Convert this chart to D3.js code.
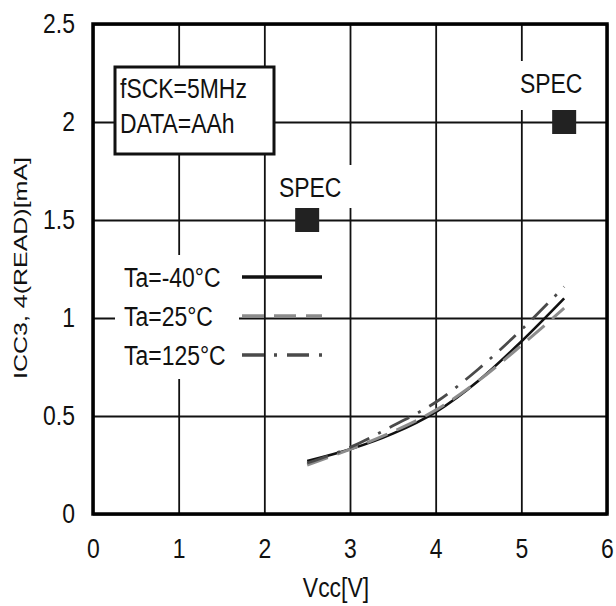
<!DOCTYPE html>
<html>
<head>
<meta charset="utf-8">
<script src="https://cdn.jsdelivr.net/npm/d3@7"></script>
<style>
  html, body { margin: 0; padding: 0; background: #fff; }
  svg { display: block; }
</style>
</head>
<body>
<div id="chart"></div>
<script>
// data
var vcc = [2.5, 3.0, 3.5, 4.0, 4.5, 5.0, 5.5];
var iccM40 = [0.27, 0.33, 0.41, 0.52, 0.68, 0.88, 1.10];
var icc25 = [0.25, 0.33, 0.42, 0.53, 0.68, 0.86, 1.05];
var icc125 = [0.26, 0.34, 0.45, 0.57, 0.74, 0.94, 1.16];
var seriesNames = ["Ta=-40\u00b0C", "Ta=25\u00b0C", "Ta=125\u00b0C"];
var specV = [2.5, 5.5];
var specI = [1.5, 2.0];
var xTicks = [0, 1, 2, 3, 4, 5, 6];
var yTicks = [0, 0.5, 1, 1.5, 2, 2.5];
var condText = ["fSCK=5MHz", "DATA=AAh"];

var W = 616, H = 606,
    margin = {top: 24, right: 9, bottom: 92, left: 93},
    width = W - margin.left - margin.right,
    height = H - margin.top - margin.bottom,
    font = "'Liberation Sans', Arial, sans-serif",
    fs = 27,
    squeeze = 0.85; // the original lettering is a condensed face

var styles = [
    {stroke: "#111", width: 2.6, dash: null},
    {stroke: "#8c8c8c", width: 3, dash: "22,10"},
    {stroke: "#4a4a4a", width: 2.8, dash: "22,10,3,10"}
];

var svg = d3.select("#chart").append("svg")
    .attr("width", W)
    .attr("height", H);

var g = svg.append("g")
    .attr("transform", "translate(" + margin.left + "," + margin.top + ")");

var x = d3.scaleLinear().domain([0, 6]).range([0, width]);
var y = d3.scaleLinear().domain([0, 2.5]).range([height, 0]);

// grid + tick labels
var xAxis = g.append("g")
    .attr("transform", "translate(0," + height + ")")
    .call(d3.axisBottom(x).tickValues(xTicks).tickSize(-height).tickPadding(25)
        .tickFormat(d3.format("d")));
var yAxis = g.append("g")
    .call(d3.axisLeft(y).tickValues(yTicks).tickSize(-width).tickPadding(18)
        .tickFormat(function (d) { return String(d); }));

[xAxis, yAxis].forEach(function (a) {
    a.select(".domain").remove();
    a.selectAll("line").attr("stroke", "#111").attr("stroke-width", 1.8);
    a.selectAll("text").attr("class", "narrow").attr("fill", "#111")
        .style("font-family", font).style("font-size", fs + "px");
});

// white backgrounds that break the grid behind labels
var legendX = 31, legendRow0 = 253, legendStep = 39;
g.append("rect")
    .attr("x", 22).attr("y", legendRow0 - 22)
    .attr("width", 124).attr("height", legendStep * 2 + 46)
    .attr("fill", "#fff");

var specLabelDx = [3, -13], specLabelDy = [-23, -29];
specV.forEach(function (v, i) {
    var cx = x(v) + specLabelDx[i], by = y(specI[i]) + specLabelDy[i];
    g.append("rect")
        .attr("x", cx - 43).attr("y", by - 32)
        .attr("width", 86).attr("height", y(specI[i]) - 12 - (by - 32))
        .attr("fill", "#fff");
    g.append("text")
        .attr("class", "narrow")
        .attr("x", cx).attr("y", by)
        .attr("text-anchor", "middle")
        .style("font-family", font).style("font-size", fs + "px")
        .attr("fill", "#111")
        .text("SPEC");
});

// condition box
var box = g.append("g").attr("transform", "translate(22,43)");
box.append("rect")
    .attr("width", 159).attr("height", 87)
    .attr("fill", "#fff").attr("stroke", "#111").attr("stroke-width", 3);
box.selectAll("text").data(condText).enter().append("text")
    .attr("class", "narrow")
    .attr("x", 5)
    .attr("y", function (d, i) { return 31 + i * 35; })
    .style("font-family", font).style("font-size", fs + "px")
    .attr("fill", "#111")
    .text(function (d) { return d; });

// curves
var series = [iccM40, icc25, icc125];
var line = d3.line()
    .x(function (d) { return x(d[0]); })
    .y(function (d) { return y(d[1]); })
    .curve(d3.curveMonotoneX);

series.forEach(function (s, i) {
    g.append("path")
        .datum(vcc.map(function (v, j) { return [v, s[j]]; }))
        .attr("fill", "none")
        .attr("stroke", styles[i].stroke)
        .attr("stroke-width", styles[i].width)
        .attr("stroke-dasharray", styles[i].dash)
        .attr("d", line);
});

// legend
var leg = g.selectAll(".leg").data(seriesNames).enter().append("g")
    .attr("class", "leg")
    .attr("transform", function (d, i) { return "translate(0," + (legendRow0 + i * legendStep) + ")"; });
leg.append("text")
    .attr("class", "narrow")
    .attr("x", legendX).attr("y", 10)
    .style("font-family", font).style("font-size", fs + "px")
    .attr("fill", "#111")
    .text(function (d) { return d; });
leg.append("line")
    .attr("x1", 149).attr("x2", 229)
    .attr("y1", 0).attr("y2", 0)
    .attr("stroke", function (d, i) { return styles[i].stroke; })
    .attr("stroke-width", 3.5)
    .attr("stroke-dasharray", function (d, i) { return styles[i].dash; });

// spec markers
specV.forEach(function (v, i) {
    g.append("rect")
        .attr("x", x(v) - 12).attr("y", y(specI[i]) - 12)
        .attr("width", 24).attr("height", 24)
        .attr("fill", "#222");
});

// frame
g.append("rect")
    .attr("width", width).attr("height", height)
    .attr("fill", "none").attr("stroke", "#000").attr("stroke-width", 3.5);

// axis titles
svg.append("text")
    .attr("class", "narrow")
    .attr("x", margin.left + x(3) - 14).attr("y", 597)
    .attr("text-anchor", "middle")
    .style("font-family", font).style("font-size", fs + "px")
    .attr("fill", "#111")
    .text("Vcc[V]");
svg.append("text")
    .attr("transform", "translate(27,268) rotate(-90)")
    .attr("text-anchor", "middle")
    .attr("textLength", 222).attr("lengthAdjust", "spacingAndGlyphs")
    .style("font-family", font).style("font-size", "18px")
    .attr("fill", "#111")
    .text("ICC3, 4(READ)[mA]");

// condense every label glyph-wise
svg.selectAll("text.narrow").each(function () {
    var len = this.getComputedTextLength();
    d3.select(this).attr("textLength", len * squeeze).attr("lengthAdjust", "spacingAndGlyphs");
});
</script>
</body>
</html>
